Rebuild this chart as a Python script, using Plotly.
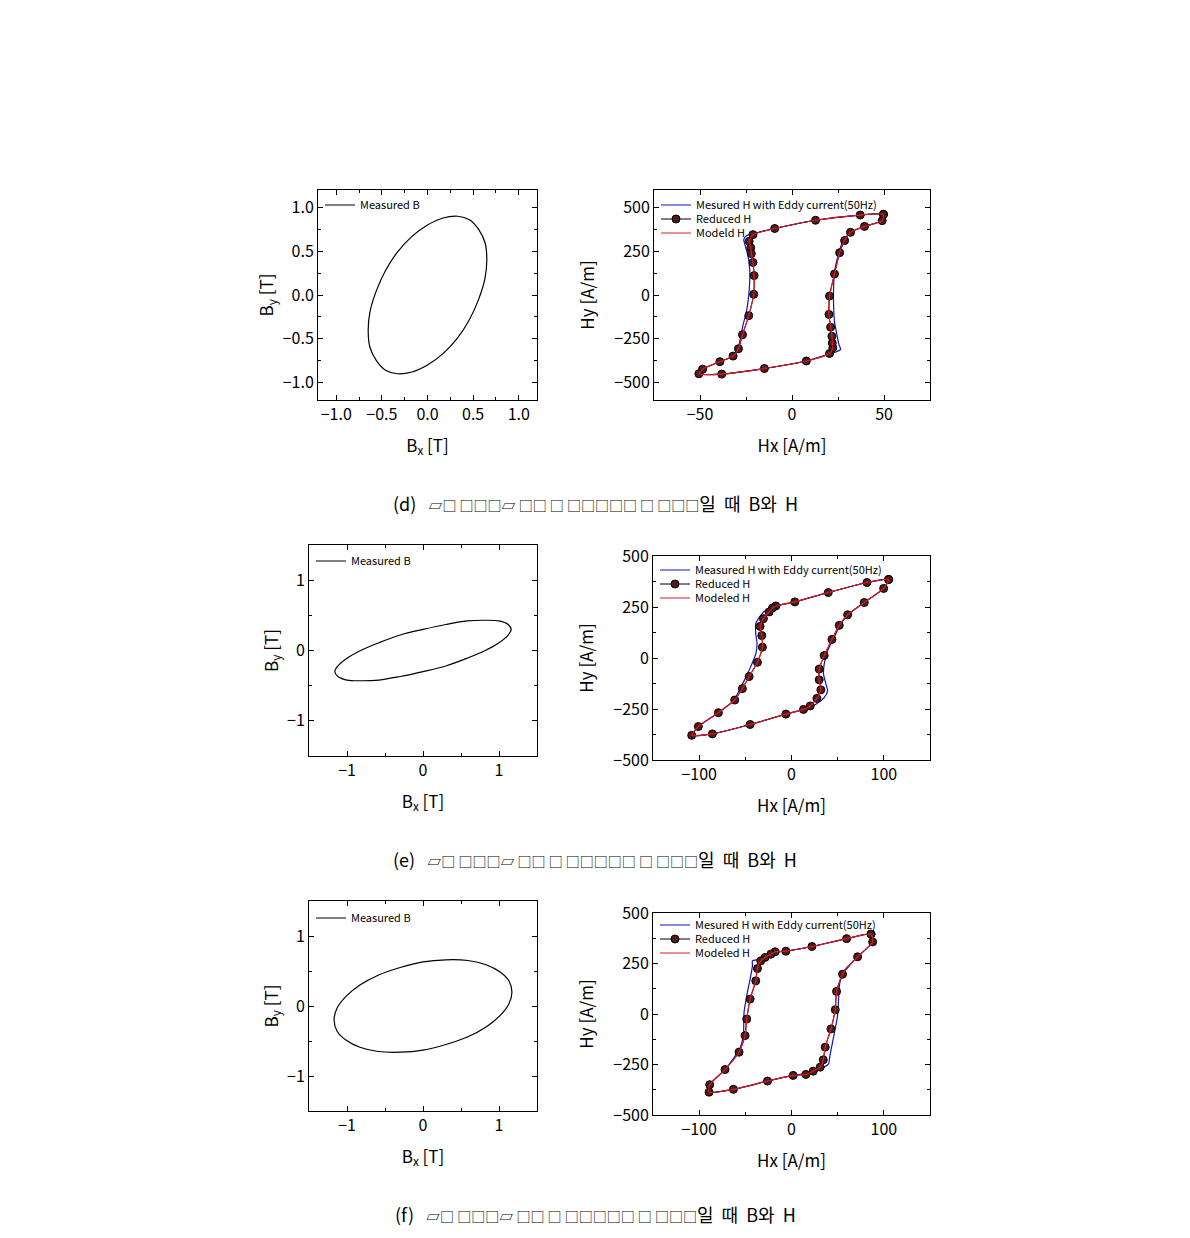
import plotly.graph_objects as go

FONT = "Noto Sans CJK KR"
W, H = 1190, 1238

# ---------------- (d) ----------------
d_bx = [0.65, 0.63, 0.56, 0.46, 0.33, 0.17, 0.00, -0.17, -0.33, -0.46, -0.56, -0.63,
        -0.65, -0.63, -0.56, -0.46, -0.33, -0.17, 0.00, 0.17, 0.33, 0.46, 0.56, 0.63, 0.65]
d_by = [0.41, 0.60, 0.75, 0.86, 0.90, 0.88, 0.80, 0.67, 0.49, 0.28, 0.05, -0.19,
        -0.41, -0.60, -0.75, -0.86, -0.90, -0.88, -0.80, -0.67, -0.49, -0.28, -0.05, 0.19, 0.41]

d_meas_hx = [49.9, 37.1, 12.8, -9.4, -21.2, -24.8, -26.2, -25.1, -23.9, -23.0, -23.0, -23.7, -24.8, -26.6, -28.0, -29.3, -32.0, -39.2, -48.6, -50.6,
             -38.2, -15.0, 7.8, 18.6, 24.1, 26.4, 25.5, 24.4, 23.1, 22.6, 22.6, 23.1, 25.0, 27.3, 31.3, 39.4, 49.0, 49.9]
d_meas_hy = [461, 457, 427, 380, 350, 339, 317, 270, 223, 148, 73, -21, -96, -171, -246, -302, -349, -381, -424, -450,
             -452, -420, -377, -343, -324, -311, -283, -227, -152, -58, 36, 129, 223, 298, 354, 392, 425, 461]

d_red_hx = [49.7, 37.1, 12.8, -9.4, -21.2, -23.3, -22.4, -22.1, -21.2, -20.6, -20.8, -23.5, -26.9, -29.1, -32.0, -39.2, -48.6, -50.6,
            -38.2, -15.0, 7.8, 20.4, 22.2, 21.9, 21.7, 21.0, 20.1, 20.4, 23.1, 25.9, 28.6, 31.8, 39.4, 49.0, 49.7]
d_red_hy = [461, 457, 427, 380, 345, 307, 270, 236, 186, 111, 4, -118, -227, -307, -349, -381, -424, -450,
            -452, -420, -377, -334, -302, -274, -236, -184, -111, -6, 120, 242, 311, 358, 392, 425, 461]

d_mod_hx = d_red_hx
d_mod_hy = d_red_hy

# ---------------- (e) ----------------
e_bx = [1.16, 1.12, 1.00, 0.82, 0.58, 0.30, 0.00, -0.30, -0.58, -0.82, -1.00, -1.12,
        -1.16, -1.12, -1.00, -0.82, -0.58, -0.30, 0.00, 0.30, 0.58, 0.82, 1.00, 1.12, 1.16]
e_by = [0.30, 0.37, 0.42, 0.43, 0.42, 0.37, 0.30, 0.22, 0.11, 0.00, -0.11, -0.22,
        -0.30, -0.37, -0.42, -0.43, -0.42, -0.37, -0.30, -0.22, -0.11, 0.00, 0.11, 0.22, 0.30]

e_meas_hx = [105.2, 81.7, 39.8, 3.6, -17.0, -27.8, -33.3, -38.7, -38.7, -37.3, -38.7, -43.0, -49.5, -56.8, -62.2, -79.2, -100.9, -108.1,
             -85.7, -44.8, -6.1, 15.6, 26.4, 35.4, 39.1, 37.3, 34.7, 35.4, 39.1, 46.3, 53.5, 62.6, 78.8, 99.8, 105.2]
e_meas_hy = [385, 370, 321, 275, 255, 234, 209, 168, 119, 69, 20, -30, -95, -161, -206, -268, -336, -379,
             -372, -326, -275, -249, -227, -194, -161, -128, -79, -30, 36, 102, 168, 217, 272, 341, 385]

e_red_hx = [105.2, 81.7, 39.8, 3.6, -17.0, -20.6, -24.2, -30.4, -34.0, -32.2, -31.5, -36.9, -45.9, -53.2, -61.5, -79.2, -100.9, -108.1,
            -85.7, -44.8, -6.1, 13.0, 20.3, 27.5, 31.8, 30.0, 30.0, 35.4, 43.8, 51.7, 60.8, 78.8, 99.8, 105.2]
e_red_hy = [385, 370, 321, 275, 255, 245, 226, 193, 155, 110, 53, -21, -91, -150, -206, -268, -336, -379,
            -372, -326, -275, -252, -235, -198, -156, -107, -54, 12, 91, 160, 212, 272, 341, 385]

e_mod_hx = e_red_hx
e_mod_hy = e_red_hy

# ---------------- (f) ----------------
f_bx = [1.17, 1.13, 1.01, 0.83, 0.59, 0.30, 0.00, -0.30, -0.59, -0.83, -1.01, -1.13,
        -1.17, -1.13, -1.01, -0.83, -0.59, -0.30, 0.00, 0.30, 0.59, 0.83, 1.01, 1.13, 1.17]
f_by = [0.20, 0.36, 0.49, 0.59, 0.65, 0.66, 0.63, 0.55, 0.44, 0.30, 0.14, -0.03,
        -0.20, -0.36, -0.49, -0.59, -0.65, -0.66, -0.63, -0.55, -0.44, -0.30, -0.14, 0.03, 0.20]

f_meas_hx = [86.1, 59.7, 22.1, -6.1, -20.6, -35.1, -42.3, -42.3, -44.8, -48.5, -51.4, -52.1, -56.1, -72.0, -88.6, -89.3,
             -62.9, -26.0, 1.8, 22.8, 35.4, 40.1, 41.6, 45.2, 49.9, 51.0, 52.4, 57.1, 71.6, 87.9, 86.1]
f_meas_hy = [395, 373, 334, 311, 304, 271, 263, 238, 173, 90, 8, -107, -173, -275, -350, -387,
             -373, -332, -304, -288, -263, -247, -206, -123, -8, 74, 156, 214, 283, 357, 395]

f_red_hx = [86.1, 59.7, 22.1, -6.1, -17.7, -22.4, -28.6, -33.3, -36.9, -38.7, -44.8, -48.5, -50.3, -56.8, -72.0, -88.6, -89.3,
            -62.9, -26.0, 1.8, 15.6, 23.5, 31.1, 34.4, 36.5, 42.7, 47.4, 48.8, 55.3, 71.6, 87.9, 86.1]
f_red_hy = [395, 373, 334, 311, 308, 296, 280, 263, 225, 164, 74, -25, -107, -189, -275, -350, -387,
            -373, -332, -304, -299, -283, -263, -227, -164, -74, 21, 112, 197, 283, 357, 395]

f_mod_hx = f_red_hx
f_mod_hy = f_red_hy

# ---------------- text ----------------
caption_labels = ["(d)", "(e)", "(f)"]
caption_boxes = "▱□ □□□▱ □□ □ □□□□□ □ □□□"
caption_tail = "일&nbsp;&nbsp;때&nbsp;&nbsp;B와&nbsp;&nbsp;H"
blue_names = ["Mesured H with Eddy current(50Hz)", "Measured H with Eddy current(50Hz)", "Mesured H with Eddy current(50Hz)"]
red_names = ["Modeld H", "Modeled H", "Modeled H"]

BLUE = "#1010c8"
RED = "#dc1c22"

# pixel boxes: (left, right, top, bottom)
left_boxes = [(318, 537, 190, 400), (309, 537, 545, 756), (309, 537, 901, 1111)]
right_boxes = [(654, 930, 190, 400), (653, 930, 556, 760), (653, 930, 913, 1115)]
caption_y = [503, 859, 1214]

B_sets = [(d_bx, d_by), (e_bx, e_by), (f_bx, f_by)]
H_sets = [
    (d_meas_hx, d_meas_hy, d_red_hx, d_red_hy, d_mod_hx, d_mod_hy),
    (e_meas_hx, e_meas_hy, e_red_hx, e_red_hy, e_mod_hx, e_mod_hy),
    (f_meas_hx, f_meas_hy, f_red_hx, f_red_hy, f_mod_hx, f_mod_hy),
]

B_range = [[-1.2, 1.2], [-1.5, 1.5], [-1.5, 1.5]]
B_dtick = [0.5, 1, 1]
B_fmt = [".1f", "d", "d"]
Hx_range = [[-75, 75], [-150, 150], [-150, 150]]
Hx_dtick = [50, 100, 100]
Hy_range = [[-600, 600], [-500, 500], [-500, 500]]


def px_x(p):
    return p / W


def px_y(p):
    return 1 - p / H


fig = go.Figure()
layout = dict(width=W, height=H, margin=dict(l=0, r=0, t=0, b=0, autoexpand=False),
              paper_bgcolor="white", plot_bgcolor="white",
              font=dict(family=FONT, color="black", size=16),
              showlegend=True, annotations=[])


def axis_style(rng, dtick, title, domain, anchor, fmt=None, standoff=None):
    a = dict(range=rng, dtick=dtick, tick0=0, domain=domain, anchor=anchor,
             showline=True, linecolor="black", linewidth=1, mirror="ticks",
             ticks="inside", ticklen=5, tickcolor="black", tickwidth=1,
             minor=dict(ticks="inside", ticklen=3, dtick=dtick / 2, tickcolor="black"),
             showgrid=False, zeroline=False, automargin=False,
             tickfont=dict(size=16, family=FONT),
             title=dict(text=title, font=dict(size=17, family=FONT)))
    if fmt:
        a["tickformat"] = fmt
    if standoff is not None:
        a["title"]["standoff"] = standoff
    return a


leg_idx = [0]


def new_legend(xpx, ypx):
    leg_idx[0] += 1
    name = "legend" if leg_idx[0] == 1 else f"legend{leg_idx[0]}"
    layout[name] = dict(x=px_x(xpx), y=px_y(ypx), xanchor="left", yanchor="middle",
                        bgcolor="rgba(0,0,0,0)", borderwidth=0, itemwidth=30,
                        font=dict(size=11, family=FONT, color="black"))
    return name


for i in range(3):
    # left: B loci
    ax = 2 * i + 1
    xa = "x" if ax == 1 else f"x{ax}"
    ya = "y" if ax == 1 else f"y{ax}"
    l, r, t, b = left_boxes[i]
    layout["xaxis" if ax == 1 else f"xaxis{ax}"] = axis_style(
        B_range[i], B_dtick[i], "B<sub>x</sub> [T]", [px_x(l), px_x(r)], ya, B_fmt[i])
    layout["yaxis" if ax == 1 else f"yaxis{ax}"] = axis_style(
        B_range[i], B_dtick[i], "B<sub>y</sub> [T]", [px_y(b), px_y(t)], xa, B_fmt[i], standoff=4)
    bx, by = B_sets[i]
    lg = new_legend(l + 2, t + 15 + (1 if i else 0) + (1 if i == 2 else 0))
    fig.add_trace(go.Scatter(x=bx, y=by, mode="lines", line=dict(color="black", width=1.2, shape="spline", smoothing=1),
                             name="Measured B", xaxis=xa, yaxis=ya, legend=lg))

    # right: H loci
    ax = 2 * i + 2
    xa = f"x{ax}"
    ya = f"y{ax}"
    l, r, t, b = right_boxes[i]
    layout[f"xaxis{ax}"] = axis_style(Hx_range[i], Hx_dtick[i], "Hx [A/m]", [px_x(l), px_x(r)], ya)
    layout[f"yaxis{ax}"] = axis_style(Hy_range[i], 250, "Hy [A/m]", [px_y(b), px_y(t)], xa)
    mhx, mhy, rhx, rhy, mod_x, mod_y = H_sets[i]
    row0 = [205, 570, 925][i]
    gap = 14
    lg1 = new_legend(l + 2, row0)
    lg2 = new_legend(l + 2, row0 + gap)
    lg3 = new_legend(l + 2, row0 + 2 * gap)
    fig.add_trace(go.Scatter(x=mhx, y=mhy, mode="lines", line=dict(color=BLUE, width=1.2, shape="spline", smoothing=0.6),
                             name=blue_names[i], xaxis=xa, yaxis=ya, legend=lg1))
    fig.add_trace(go.Scatter(x=rhx, y=rhy, mode="lines+markers",
                             line=dict(color="black", width=1, shape="spline", smoothing=0.6),
                             marker=dict(size=8, color="#4e1c1a", line=dict(color="black", width=1)),
                             name="Reduced H", xaxis=xa, yaxis=ya, legend=lg2))
    fig.add_trace(go.Scatter(x=mod_x, y=mod_y, mode="lines", line=dict(color=RED, width=1.2, shape="spline", smoothing=0.6),
                             name=red_names[i], xaxis=xa, yaxis=ya, legend=lg3, showlegend=True))

    cap = (caption_labels[i] + "&nbsp;&nbsp;&nbsp;"
           + "<span style='font-size:14px'>" + caption_boxes + "</span>" + caption_tail)
    layout["annotations"].append(dict(text=cap, x=0.5, y=px_y(caption_y[i]), xref="paper", yref="paper",
                                      xanchor="center", yanchor="middle", showarrow=False,
                                      font=dict(size=18, family=FONT, color="black")))

fig.update_layout(**layout)
fig.write_html("out.html")
